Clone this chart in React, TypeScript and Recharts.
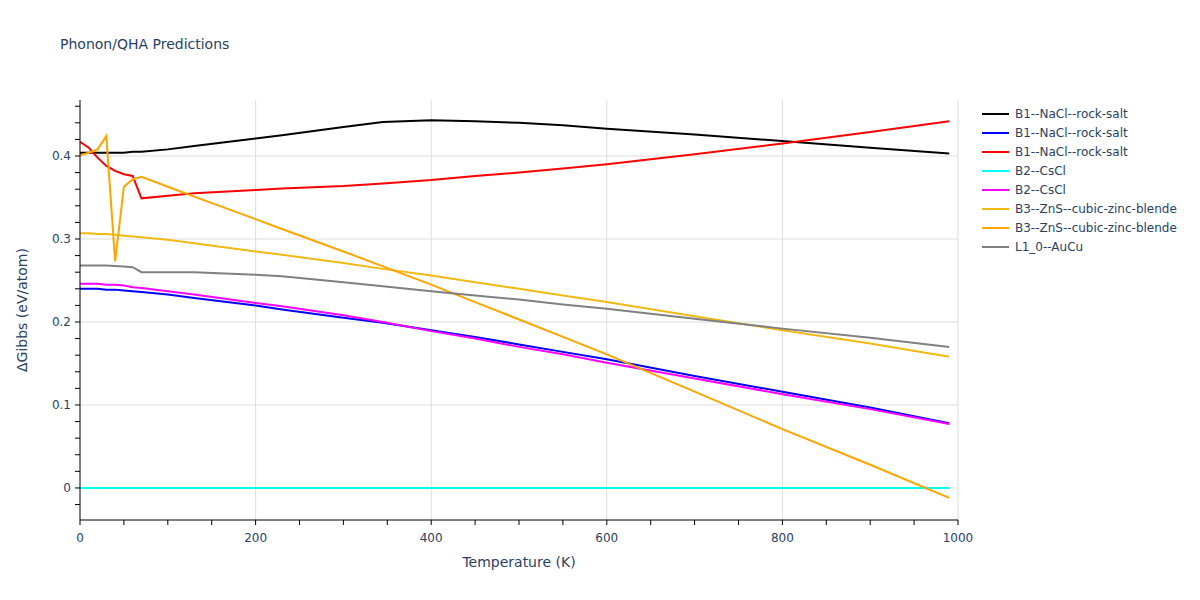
import React from "react";
import { LineChart, Line, XAxis, YAxis, ReferenceLine } from "recharts";

const temperatures = [0, 10, 20, 30, 40, 50, 60, 70, 100, 130, 200, 230, 300, 345, 400, 450, 500, 550, 600, 700, 800, 900, 990];

const b1Black = [0.404, 0.404, 0.404, 0.404, 0.404, 0.404, 0.405, 0.405, 0.408, 0.412, 0.421, 0.425, 0.435, 0.441, 0.443, 0.442, 0.44, 0.437, 0.433, 0.426, 0.418, 0.41, 0.403];
const b1Blue = [0.240, 0.240, 0.240, 0.239, 0.239, 0.238, 0.237, 0.236, 0.233, 0.229, 0.220, 0.215, 0.205, 0.199, 0.190, 0.182, 0.173, 0.164, 0.155, 0.135, 0.116, 0.097, 0.078];
const b1Red = [0.417, 0.41, 0.398, 0.388, 0.382, 0.378, 0.376, 0.349, 0.352, 0.355, 0.359, 0.361, 0.364, 0.367, 0.371, 0.376, 0.38, 0.385, 0.39, 0.402, 0.415, 0.429, 0.442];
const b2Cyan = [0, 0, 0, 0, 0, 0, 0, 0, 0, 0, 0, 0, 0, 0, 0, 0, 0, 0, 0, 0, 0, 0, 0];
const b2Magenta = [0.246, 0.246, 0.246, 0.245, 0.245, 0.244, 0.242, 0.241, 0.237, 0.233, 0.223, 0.219, 0.208, 0.200, 0.189, 0.180, 0.170, 0.161, 0.151, 0.132, 0.113, 0.095, 0.077];
const b3Yellow = [0.307, 0.307, 0.306, 0.306, 0.305, 0.304, 0.303, 0.302, 0.299, 0.295, 0.285, 0.281, 0.271, 0.264, 0.256, 0.248, 0.240, 0.232, 0.224, 0.207, 0.190, 0.174, 0.158];
const b3Orange = [0.401, 0.404, 0.408, 0.424, 0.273, 0.363, 0.372, 0.375, 0.363, 0.351, 0.324, 0.312, 0.285, 0.267, 0.245, 0.224, 0.203, 0.182, 0.161, 0.116, 0.071, 0.028, -0.012];
const l10Gray = [0.268, 0.268, 0.268, 0.268, 0.2675, 0.267, 0.266, 0.260, 0.260, 0.260, 0.257, 0.255, 0.248, 0.243, 0.237, 0.232, 0.227, 0.221, 0.216, 0.204, 0.192, 0.181, 0.170];

const xTicks = [0, 50, 100, 150, 200, 250, 300, 350, 400, 450, 500, 550, 600, 650, 700, 750, 800, 850, 900, 950, 1000];
const xLabelTicks = [0, 200, 400, 600, 800, 1000];
const yTicks = [-0.02, 0, 0.02, 0.04, 0.06, 0.08, 0.1, 0.12, 0.14, 0.16, 0.18, 0.2, 0.22, 0.24, 0.26, 0.28, 0.3, 0.32, 0.34, 0.36, 0.38, 0.4, 0.42, 0.44, 0.46];
const yLabelTicks = [0, 0.1, 0.2, 0.3, 0.4];

const seriesDefs = [
  { key: "s0", name: "B1--NaCl--rock-salt", color: "#000000", values: b1Black },
  { key: "s1", name: "B1--NaCl--rock-salt", color: "#0000ff", values: b1Blue },
  { key: "s2", name: "B1--NaCl--rock-salt", color: "#ff0000", values: b1Red },
  { key: "s3", name: "B2--CsCl", color: "#00ffff", values: b2Cyan },
  { key: "s4", name: "B2--CsCl", color: "#ff00ff", values: b2Magenta },
  { key: "s5", name: "B3--ZnS--cubic-zinc-blende", color: "#f0b914", values: b3Yellow },
  { key: "s6", name: "B3--ZnS--cubic-zinc-blende", color: "#ffa500", values: b3Orange },
  { key: "s7", name: "L1_0--AuCu", color: "#808080", values: l10Gray },
];

const data = temperatures.map((t, i) => {
  const row: Record<string, number> = { t };
  seriesDefs.forEach((s) => {
    row[s.key] = s.values[i];
  });
  return row;
});

const FONT = "'DejaVu Sans', Verdana, sans-serif";
const TXT = "#2a3f5f";

const XTick = (props: any) => {
  const { x, y, payload } = props;
  const v = payload.value;
  if (!xLabelTicks.some((m) => Math.abs(m - v) < 1e-6)) return null;
  return (
    <text x={x} y={y} dy="0.71em" textAnchor="middle" fontSize={12} fill={TXT} fontFamily={FONT}>
      {String(v)}
    </text>
  );
};

const YTick = (props: any) => {
  const { x, y, payload } = props;
  const v = payload.value;
  if (!yLabelTicks.some((m) => Math.abs(m - v) < 1e-6)) return null;
  return (
    <text x={x} y={y} dy="0.35em" textAnchor="end" fontSize={12} fill={TXT} fontFamily={FONT}>
      {String(Math.round(v * 10) / 10)}
    </text>
  );
};

export default function App() {
  return (
    <div style={{ position: "absolute", left: 0, top: 0, width: 1200, height: 600, background: "#fff", fontFamily: FONT }}>
      <LineChart width={1200} height={600} data={data} margin={{ top: 100, right: 242, bottom: 50, left: 20 }}>
        {[200, 400, 600, 800, 1000].map((v) => (
          <ReferenceLine key={"gx" + v} x={v} stroke="#dddddd" strokeWidth={1} />
        ))}
        {yLabelTicks.map((v) => (
          <ReferenceLine key={"gy" + v} y={v} stroke="#dddddd" strokeWidth={1} />
        ))}
        <XAxis
          dataKey="t"
          type="number"
          domain={[0, 1000]}
          ticks={xTicks}
          interval={0}
          allowDataOverflow
          height={30}
          axisLine={{ stroke: "#000", strokeWidth: 1 }}
          tickLine={{ stroke: "#000", strokeWidth: 1 }}
          tickSize={5}
          tickMargin={8}
          tick={<XTick />}
        />
        <YAxis
          type="number"
          domain={[-0.0386, 0.4675]}
          ticks={yTicks}
          interval={0}
          allowDataOverflow
          width={60}
          axisLine={{ stroke: "#000", strokeWidth: 1 }}
          tickLine={{ stroke: "#000", strokeWidth: 1 }}
          tickSize={5}
          tickMargin={4}
          tick={<YTick />}
        />
        {seriesDefs.map((s) => (
          <Line
            key={s.key}
            dataKey={s.key}
            name={s.name}
            stroke={s.color}
            strokeWidth={2}
            dot={false}
            activeDot={false}
            type="linear"
            isAnimationActive={false}
          />
        ))}
      </LineChart>
      <div style={{ position: "absolute", left: 60, top: 36, fontSize: 14, lineHeight: "17px", color: TXT, whiteSpace: "nowrap" }}>
        Phonon/QHA Predictions
      </div>
      <div style={{ position: "absolute", left: 80, width: 878, top: 554, lineHeight: "17px", textAlign: "center", fontSize: 14, color: TXT }}>
        Temperature (K)
      </div>
      <div
        style={{
          position: "absolute",
          left: 22,
          top: 310,
          transform: "translate(-50%, -50%) rotate(-90deg)",
          fontSize: 14,
          lineHeight: "17px",
          color: TXT,
          whiteSpace: "nowrap",
        }}
      >
        ΔGibbs (eV/atom)
      </div>
      <div style={{ position: "absolute", left: 980, top: 104 }}>
        {seriesDefs.map((s) => (
          <div key={s.key} style={{ display: "flex", alignItems: "center", height: 19 }}>
            <div style={{ width: 27, height: 2, background: s.color, marginLeft: 2, marginRight: 6 }} />
            <span style={{ fontSize: 12, color: TXT, whiteSpace: "nowrap" }}>{s.name}</span>
          </div>
        ))}
      </div>
    </div>
  );
}
